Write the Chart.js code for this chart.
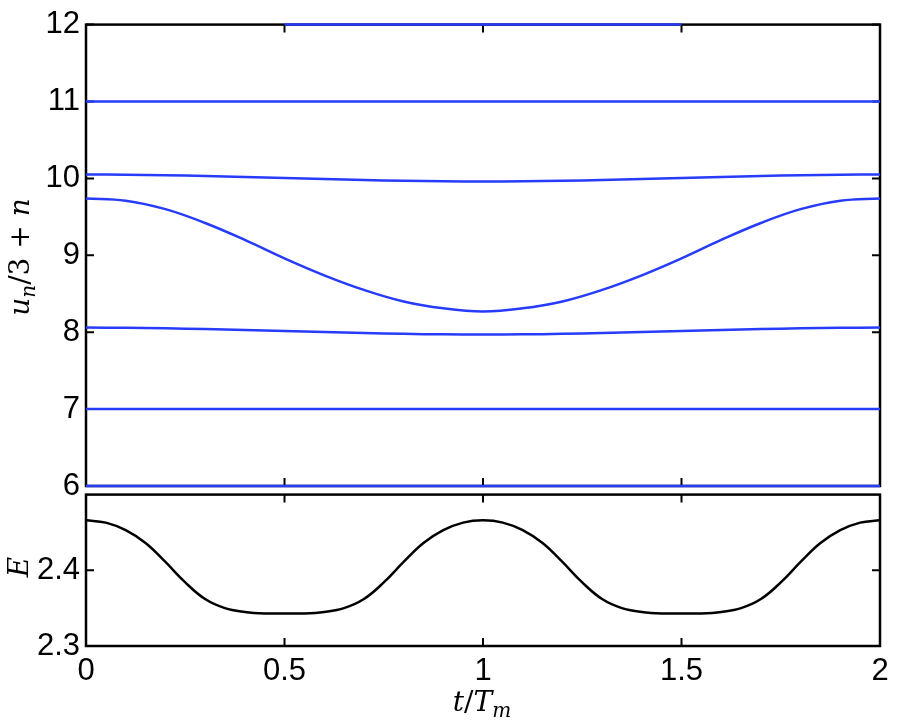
<!DOCTYPE html>
<html>
<head>
    <meta charset="utf-8">
    <title>u_n and E versus t/T_m</title>
    <script src="https://cdn.jsdelivr.net/npm/chart.js"></script>
    <style>
        body { margin: 0; background: white; }
        .figure {
            position: relative;
            width: 897px;
            height: 726px;
        }
        canvas { position: absolute; left: 0; }
        #topChart { top: 0; }
        #energyChart { top: 470px; }
        .label {
            position: absolute;
            font-family: "DejaVu Serif", serif;
            font-size: 28px;
            color: #000;
            white-space: nowrap;
            line-height: 1;
        }
        .label i { font-style: italic; }
        .label sub { font-size: 20px; vertical-align: -6px; }
        #ylabelTop { left: 22px; top: 257px; transform: translate(-50%, -50%) rotate(-90deg); }
        #ylabelE { left: 19px; top: 567px; transform: translate(-50%, -50%) rotate(-90deg); }
        #xlabel { left: 482px; top: 704px; transform: translate(-50%, -50%); }
    </style>
</head>
<body>
    <div class="figure">
        <canvas id="topChart" width="897" height="520"></canvas>
        <canvas id="energyChart" width="897" height="256"></canvas>
        <div class="label" id="ylabelTop"><i>u</i><sub><i>n</i></sub>/3 + <i>n</i></div>
        <div class="label" id="ylabelE"><i>E</i></div>
        <div class="label" id="xlabel"><i>t</i>/<i>T</i><sub><i>m</i></sub></div>
    </div>

    <script>
        // time samples (t / T_m)
        const tTop = [0, 0.1, 0.2, 0.3, 0.4, 0.5, 0.6, 0.7, 0.8, 0.9, 1.0,
                      1.1, 1.2, 1.3, 1.4, 1.5, 1.6, 1.7, 1.8, 1.9, 2.0];
        const tE = [0, 0.05, 0.1, 0.15, 0.2, 0.25, 0.3, 0.35, 0.4, 0.45, 0.5,
                    0.55, 0.6, 0.65, 0.7, 0.75, 0.8, 0.85, 0.9, 0.95, 1.0,
                    1.05, 1.1, 1.15, 1.2, 1.25, 1.3, 1.35, 1.4, 1.45, 1.5,
                    1.55, 1.6, 1.65, 1.7, 1.75, 1.8, 1.85, 1.9, 1.95, 2.0];

        // u_n/3 + n for each site
        const u6 = [6, 6, 6, 6, 6, 6, 6, 6, 6, 6, 6, 6, 6, 6, 6, 6, 6, 6, 6, 6, 6];
        const u7 = [7, 7, 7, 7, 7, 7, 7, 7, 7, 7, 7, 7, 7, 7, 7, 7, 7, 7, 7, 7, 7];
        const u8 = [8.060, 8.058, 8.051, 8.041, 8.029, 8.015, 8.001, 7.989, 7.979, 7.972, 7.970,
                    7.972, 7.979, 7.989, 8.001, 8.015, 8.029, 8.041, 8.051, 8.058, 8.060];
        const u9 = [9.74, 9.71, 9.60, 9.42, 9.20, 8.96, 8.74, 8.55, 8.40, 8.31, 8.27,
                    8.31, 8.40, 8.55, 8.74, 8.96, 9.20, 9.42, 9.60, 9.71, 9.74];
        const u10 = [10.050, 10.048, 10.041, 10.031, 10.019, 10.005, 9.991, 9.979, 9.969, 9.962, 9.960,
                     9.962, 9.969, 9.979, 9.991, 10.005, 10.019, 10.031, 10.041, 10.048, 10.050];
        const u11 = [11, 11, 11, 11, 11, 11, 11, 11, 11, 11, 11, 11, 11, 11, 11, 11, 11, 11, 11, 11, 11];
        const u12 = [null, null, null, null, null, 12, 12, 12, 12, 12, 12,
                     12, 12, 12, 12, 12, null, null, null, null, null];

        // energy
        const energy = [2.466, 2.463, 2.453, 2.436, 2.411, 2.384, 2.362, 2.350, 2.345, 2.343, 2.343,
                        2.343, 2.345, 2.350, 2.362, 2.384, 2.411, 2.436, 2.453, 2.463, 2.466,
                        2.463, 2.453, 2.436, 2.411, 2.384, 2.362, 2.350, 2.345, 2.343, 2.343,
                        2.343, 2.345, 2.350, 2.362, 2.384, 2.411, 2.436, 2.453, 2.463, 2.466];

        // tick labels
        const xTicks = [0, 0.5, 1, 1.5, 2];
        const yTicksTop = [6, 7, 8, 9, 10, 11, 12];
        const yTicksE = [2.3, 2.4];

        const tickFont = { family: '"Liberation Sans", Arial, sans-serif', size: 31 };
        const blue = 'rgb(38, 60, 250)';

        const pairs = (xs, ys) => xs.map((x, i) => ({ x: x, y: ys[i] }));

        // matlab style box with inward ticks on all four sides
        const boxPlugin = {
            id: 'box',
            beforeDatasetsDraw(chart, args, opts) {
                const ctx = chart.ctx;
                const a = chart.chartArea;
                const xs = chart.scales.x, ys = chart.scales.y;
                const len = 8;
                ctx.save();
                ctx.strokeStyle = '#000';
                ctx.lineWidth = 2;
                ctx.beginPath();
                xTicks.forEach(v => {
                    const px = xs.getPixelForValue(v);
                    ctx.moveTo(px, a.bottom); ctx.lineTo(px, a.bottom - len);
                    ctx.moveTo(px, a.top); ctx.lineTo(px, a.top + len);
                });
                opts.yTicks.forEach(v => {
                    const py = ys.getPixelForValue(v);
                    ctx.moveTo(a.left, py); ctx.lineTo(a.left + len, py);
                    ctx.moveTo(a.right, py); ctx.lineTo(a.right - len, py);
                });
                ctx.stroke();
                ctx.lineWidth = 2.5;
                ctx.strokeRect(a.left, a.top, a.right - a.left, a.bottom - a.top);
                ctx.restore();
            }
        };

        function lineSet(xs, ys, color) {
            return {
                data: pairs(xs, ys),
                borderColor: color,
                borderWidth: 2.5,
                pointRadius: 0,
                tension: 0.4,
                spanGaps: false,
                clip: false
            };
        }

        const yScale = (min, max, ticks) => ({
            min: min, max: max,
            afterFit: s => { s.width = 86; },
            afterBuildTicks: s => { s.ticks = ticks.map(v => ({ value: v })); },
            grid: { display: false, drawTicks: false },
            border: { display: false },
            ticks: { color: '#000', font: tickFont, padding: 6, callback: v => String(v) }
        });

        new Chart(document.getElementById('topChart'), {
            type: 'line',
            data: {
                datasets: [u6, u7, u8, u9, u10, u11, u12].map(s => lineSet(tTop, s, blue))
            },
            options: {
                responsive: false,
                animation: false,
                devicePixelRatio: 1,
                layout: { padding: { top: 24, right: 17, bottom: 34, left: 0 } },
                plugins: { legend: { display: false }, tooltip: { enabled: false }, box: { yTicks: yTicksTop } },
                scales: {
                    x: { type: 'linear', min: 0, max: 2, display: false },
                    y: yScale(6, 12, yTicksTop)
                }
            },
            plugins: [boxPlugin]
        });

        new Chart(document.getElementById('energyChart'), {
            type: 'line',
            data: {
                datasets: [lineSet(tE, energy, '#000')]
            },
            options: {
                responsive: false,
                animation: false,
                devicePixelRatio: 1,
                layout: { padding: { top: 23, right: 17, bottom: 0, left: 0 } },
                plugins: { legend: { display: false }, tooltip: { enabled: false }, box: { yTicks: yTicksE } },
                scales: {
                    x: {
                        type: 'linear', min: 0, max: 2,
                        afterFit: s => { s.height = 80; },
                        afterBuildTicks: s => { s.ticks = xTicks.map(v => ({ value: v })); },
                        grid: { display: false, drawTicks: false },
                        border: { display: false },
                        ticks: { color: '#000', font: tickFont, padding: 7, maxRotation: 0, callback: v => String(v) }
                    },
                    y: yScale(2.3, 2.5, yTicksE)
                }
            },
            plugins: [boxPlugin]
        });
    </script>
</body>
</html>
